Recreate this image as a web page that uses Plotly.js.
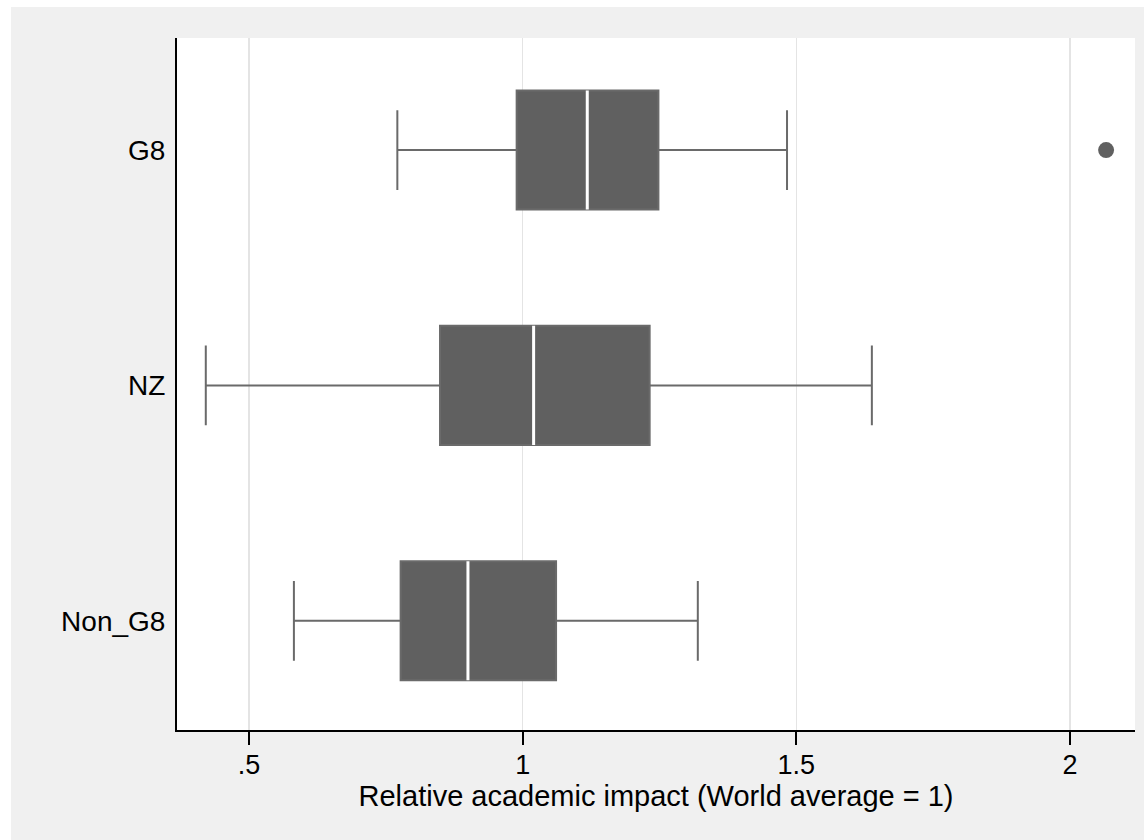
<!DOCTYPE html>
<html>
<head>
<meta charset="utf-8">
<script src="https://cdn.plot.ly/plotly-3.0.1.min.js"></script>
<style>
  html, body { margin: 0; padding: 0; background: #ffffff; }
  #chart { position: absolute; left: 11px; top: 7px; width: 1133px; height: 833px; }
</style>
</head>
<body>
<div id="chart"></div>
<script>
// Data
const categories = ['G8', 'NZ', 'Non_G8'];
const lowerWhisker = [0.771, 0.421, 0.582];
const q1Values     = [0.989, 0.849, 0.777];
const medianValues = [1.118, 1.020, 0.900];
const q3Values     = [1.248, 1.232, 1.061];
const upperWhisker = [1.483, 1.638, 1.320];
const outlierCategories = ['G8'];
const outlierValues = [2.066];
const tickValues = [0.5, 1, 1.5, 2];
const tickLabels = ['.5', '1', '1.5', '2'];

const boxColor = '#606060';
const fontFamily = '"Liberation Sans", Arial, Helvetica, sans-serif';

const boxTrace = {
  type: 'box',
  orientation: 'h',
  y: categories,
  q1: q1Values,
  median: medianValues,
  q3: q3Values,
  lowerfence: lowerWhisker,
  upperfence: upperWhisker,
  fillcolor: boxColor,
  line: { color: '#6a6a6a', width: 2 },
  whiskerwidth: 0.67,
  width: 0.506,
  boxpoints: false,
  hoverinfo: 'skip',
  showlegend: false
};

const medianTrace = {
  type: 'box',
  orientation: 'h',
  y: categories,
  q1: medianValues,
  median: medianValues,
  q3: medianValues,
  lowerfence: medianValues,
  upperfence: medianValues,
  fillcolor: 'rgba(0,0,0,0)',
  line: { color: '#ffffff', width: 3 },
  whiskerwidth: 0,
  width: 0.506,
  boxpoints: false,
  hoverinfo: 'skip',
  showlegend: false
};

const outlierTrace = {
  type: 'scatter',
  mode: 'markers',
  y: outlierCategories,
  x: outlierValues,
  marker: { color: boxColor, size: 16 },
  hoverinfo: 'skip',
  showlegend: false
};

const layout = {
  width: 1133,
  height: 833,
  paper_bgcolor: '#f0f0f0',
  plot_bgcolor: '#ffffff',
  margin: { l: 166, r: 9, t: 31, b: 110 },
  font: { family: fontFamily, color: '#000000' },
  boxmode: 'overlay',
  xaxis: {
    range: [0.3684, 2.1188],
    tickvals: tickValues,
    ticktext: tickLabels,
    ticks: 'outside',
    ticklen: 13,
    tickwidth: 2,
    tickcolor: '#000000',
    showline: true,
    linecolor: '#000000',
    linewidth: 2,
    showgrid: true,
    gridcolor: '#e4e4e4',
    gridwidth: 1.5,
    zeroline: false,
    ticklabelstandoff: -3,
    tickfont: { size: 27, family: fontFamily, color: '#000000' },
    automargin: true,
    title: {
      text: 'Relative academic impact (World average = 1)',
      font: { size: 29, family: fontFamily, color: '#000000' },
      standoff: 1
    }
  },
  yaxis: {
    type: 'category',
    categoryorder: 'array',
    categoryarray: categories,
    range: [2.464, -0.476],
    ticks: '',
    showline: true,
    linecolor: '#000000',
    linewidth: 2,
    showgrid: false,
    zeroline: false,
    ticklabelstandoff: 4,
    tickfont: { size: 28, family: fontFamily, color: '#000000' }
  }
};

Plotly.newPlot('chart', [boxTrace, medianTrace, outlierTrace], layout, { displayModeBar: false, staticPlot: true });
</script>
</body>
</html>
